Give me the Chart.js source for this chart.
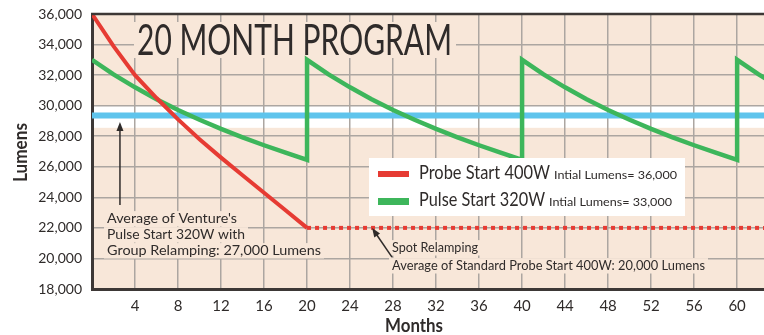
<!DOCTYPE html>
<html>
<head>
<meta charset="utf-8">
<script src="https://cdn.jsdelivr.net/npm/chart.js@4"></script>
<style>
html, body { margin: 0; padding: 0; background: #fff; }
canvas { display: block; }
</style>
</head>
<body>
<canvas id="lumens" width="764" height="335"></canvas>
<script>
// axis ticks
var monthTicks = [4, 8, 12, 16, 20, 24, 28, 32, 36, 40, 44, 48, 52, 56, 60];
var lumenTicks = [18000, 20000, 22000, 24000, 26000, 28000, 30000, 32000, 34000, 36000];

// probe start 400W, spot relamping
var probeMonths = [0, 2, 4, 6, 8, 10, 12, 14, 16, 18, 20];
var probeLumens = [36000, 33900, 32000, 30500, 29100, 27800, 26600, 25450, 24300, 23150, 22000];
var spotMonths = [20, 62.5];
var spotLumens = [22000, 22000];

// pulse start 320W, group relamping every 20 months
var pulseMonths = [0, 2, 4, 6, 8, 10, 12, 14, 16, 18, 20,
                   20, 22, 24, 26, 28, 30, 32, 34, 36, 38, 40,
                   40, 42, 44, 46, 48, 50, 52, 54, 56, 58, 60,
                   60, 62, 64];
var pulseLumens = [33000, 32050, 31200, 30420, 29720, 29080, 28480, 27930, 27410, 26920, 26450,
                   33000, 32050, 31200, 30420, 29720, 29080, 28480, 27930, 27410, 26920, 26450,
                   33000, 32050, 31200, 30420, 29720, 29080, 28480, 27930, 27410, 26920, 26450,
                   33000, 32050, 31200];

// average line and its white band
var averageMonths = [0, 62.5];
var averageLumens = [29350, 29350];
var bandLumens = [30000, 28550];

var RED = '#e63b33', GREEN = '#3db65b', BLUE = '#5fc4ec';
var TAN = '#f8e7d9', GRID = '#aca6a1', INK = '#2f2b2a', EDGE = '#3d3836';
var FONT = 'Lato, "Open Sans", sans-serif';

function points(xs, ys) {
  var out = [];
  for (var i = 0; i < xs.length; i++) out.push({ x: xs[i], y: ys[i] });
  return out;
}

// squeeze/stretch a string to a given width
function fitText(ctx, str, x, y, w) {
  var m = ctx.measureText(str).width;
  ctx.save();
  ctx.translate(x, y);
  ctx.scale(w / m, 1);
  ctx.fillText(str, 0, 0);
  ctx.restore();
}

// text line with a tan patch behind it so grid lines stop around it
function label(ctx, str, x, y, w, size) {
  ctx.fillStyle = TAN;
  ctx.fillRect(x - 3, y - size * 0.85, w + 6, size * 1.1);
  ctx.fillStyle = INK;
  fitText(ctx, str, x, y, w);
}

function arrow(ctx, x1, y1, x2, y2) {
  var ang = Math.atan2(y2 - y1, x2 - x1);
  ctx.strokeStyle = INK;
  ctx.fillStyle = INK;
  ctx.lineWidth = 1.5;
  ctx.beginPath();
  ctx.moveTo(x1, y1);
  ctx.lineTo(x2 - Math.cos(ang) * 6, y2 - Math.sin(ang) * 6);
  ctx.stroke();
  ctx.beginPath();
  ctx.moveTo(x2, y2);
  ctx.lineTo(x2 - Math.cos(ang) * 9 + Math.sin(ang) * 3.5, y2 - Math.sin(ang) * 9 - Math.cos(ang) * 3.5);
  ctx.lineTo(x2 - Math.cos(ang) * 9 - Math.sin(ang) * 3.5, y2 - Math.sin(ang) * 9 + Math.cos(ang) * 3.5);
  ctx.closePath();
  ctx.fill();
}

var decor = {
  id: 'decor',
  beforeDraw: function (chart) {
    var ctx = chart.ctx, a = chart.chartArea, y = chart.scales.y;
    ctx.save();
    ctx.fillStyle = TAN;
    ctx.fillRect(a.left, a.top, a.right - a.left, a.bottom - a.top);
    var t = y.getPixelForValue(bandLumens[0]), b = y.getPixelForValue(bandLumens[1]);
    ctx.fillStyle = '#ffffff';
    ctx.fillRect(a.left, t, a.right - a.left, b - t);
    ctx.restore();
  },
  beforeDatasetsDraw: function (chart) {
    var ctx = chart.ctx;
    ctx.save();
    ctx.textBaseline = 'alphabetic';
    ctx.textAlign = 'left';

    // title
    ctx.font = '42px ' + FONT;
    ctx.fillStyle = TAN;
    ctx.fillRect(134, 22, 322, 36);
    ctx.fillStyle = INK;
    fitText(ctx, '20 MONTH PROGRAM', 137, 55, 315);

    ctx.font = '14px ' + FONT;
    label(ctx, "Average of Venture's", 107, 223, 130, 14);
    label(ctx, 'Pulse Start 320W with', 107, 239, 138, 14);
    label(ctx, 'Group Relamping: 27,000 Lumens', 107, 255, 214, 14);
    label(ctx, 'Spot Relamping', 392, 252, 86, 14);
    label(ctx, 'Average of Standard Probe Start 400W: 20,000 Lumens', 392, 270, 313, 14);
    ctx.restore();
  },
  afterDatasetsDraw: function (chart) {
    var ctx = chart.ctx, ds = chart.data.datasets;
    ctx.save();
    // legend box
    ctx.fillStyle = '#ffffff';
    ctx.fillRect(369, 158, 316, 58);
    ctx.fillStyle = ds[3].borderColor;
    ctx.fillRect(378, 171, 31, 6);
    ctx.fillStyle = ds[1].borderColor;
    ctx.fillRect(378, 198, 31, 7);
    ctx.fillStyle = INK;
    ctx.font = '19px ' + FONT;
    fitText(ctx, 'Probe Start 400W', 419, 179, 131);
    fitText(ctx, 'Pulse Start 320W', 419, 206, 126);
    ctx.font = '12px ' + FONT;
    fitText(ctx, 'Intial Lumens= 36,000', 554, 179, 123);
    fitText(ctx, 'Intial Lumens= 33,000', 549, 206, 123);
    ctx.restore();
  },
  afterDraw: function (chart) {
    var ctx = chart.ctx, a = chart.chartArea, x = chart.scales.x, y = chart.scales.y;
    ctx.save();
    // top edge of the plot
    ctx.strokeStyle = EDGE;
    ctx.lineWidth = 2.5;
    ctx.beginPath();
    ctx.moveTo(a.left - 1, a.top);
    ctx.lineTo(a.right, a.top);
    ctx.stroke();

    arrow(ctx, x.getPixelForValue(2.6), y.getPixelForValue(23500),
               x.getPixelForValue(2.6), y.getPixelForValue(28930));
    arrow(ctx, x.getPixelForValue(27.9), y.getPixelForValue(20090),
               x.getPixelForValue(26.05), y.getPixelForValue(21990));

    // axis titles
    ctx.fillStyle = INK;
    ctx.font = 'bold 18px ' + FONT;
    ctx.textBaseline = 'alphabetic';
    fitText(ctx, 'Months', 385, 332, 58);
    ctx.translate(27, 182);
    ctx.rotate(-Math.PI / 2);
    fitText(ctx, 'Lumens', 0, 0, 59);
    ctx.restore();
  }
};

var lumensChart = new Chart(document.getElementById('lumens'), {
  type: 'line',
  data: {
    datasets: [
      { data: points(averageMonths, averageLumens), borderColor: BLUE, borderWidth: 6, order: 4 },
      { data: points(pulseMonths, pulseLumens), borderColor: GREEN, borderWidth: 4.5, order: 3 },
      { data: points(spotMonths, spotLumens), borderColor: RED, borderWidth: 4, borderDash: [4, 4], order: 2 },
      { data: points(probeMonths, probeLumens), borderColor: RED, borderWidth: 4, order: 1 }
    ]
  },
  options: {
    responsive: false,
    animation: false,
    layout: { padding: { top: 14, right: 0, left: 0, bottom: 0 } },
    elements: {
      point: { radius: 0 },
      line: { tension: 0, borderJoinStyle: 'miter', borderCapStyle: 'butt', fill: false }
    },
    plugins: { legend: { display: false }, tooltip: { enabled: false } },
    scales: {
      x: {
        type: 'linear',
        min: 0,
        max: 62.5,
        afterBuildTicks: function (s) { s.ticks = monthTicks.map(function (v) { return { value: v }; }); },
        afterFit: function (s) { s.height = 46; s.paddingLeft = 0; s.paddingRight = 0; },
        grid: { color: GRID, lineWidth: 1.5, drawTicks: false },
        border: { color: EDGE, width: 3 },
        ticks: { color: INK, font: { family: FONT, size: 15 }, padding: 8, maxRotation: 0, autoSkip: false }
      },
      y: {
        min: 18000,
        max: 36000,
        afterBuildTicks: function (s) { s.ticks = lumenTicks.map(function (v) { return { value: v }; }); },
        afterFit: function (s) { s.width = 92; s.paddingTop = 0; s.paddingBottom = 0; },
        grid: { color: GRID, lineWidth: 1.5, drawTicks: false },
        border: { color: EDGE, width: 3 },
        ticks: {
          color: INK,
          font: { family: FONT, size: 14 },
          padding: 10,
          autoSkip: false,
          callback: function (v) { return v.toLocaleString('en-US'); }
        }
      }
    }
  },
  plugins: [decor]
});
</script>
</body>
</html>
